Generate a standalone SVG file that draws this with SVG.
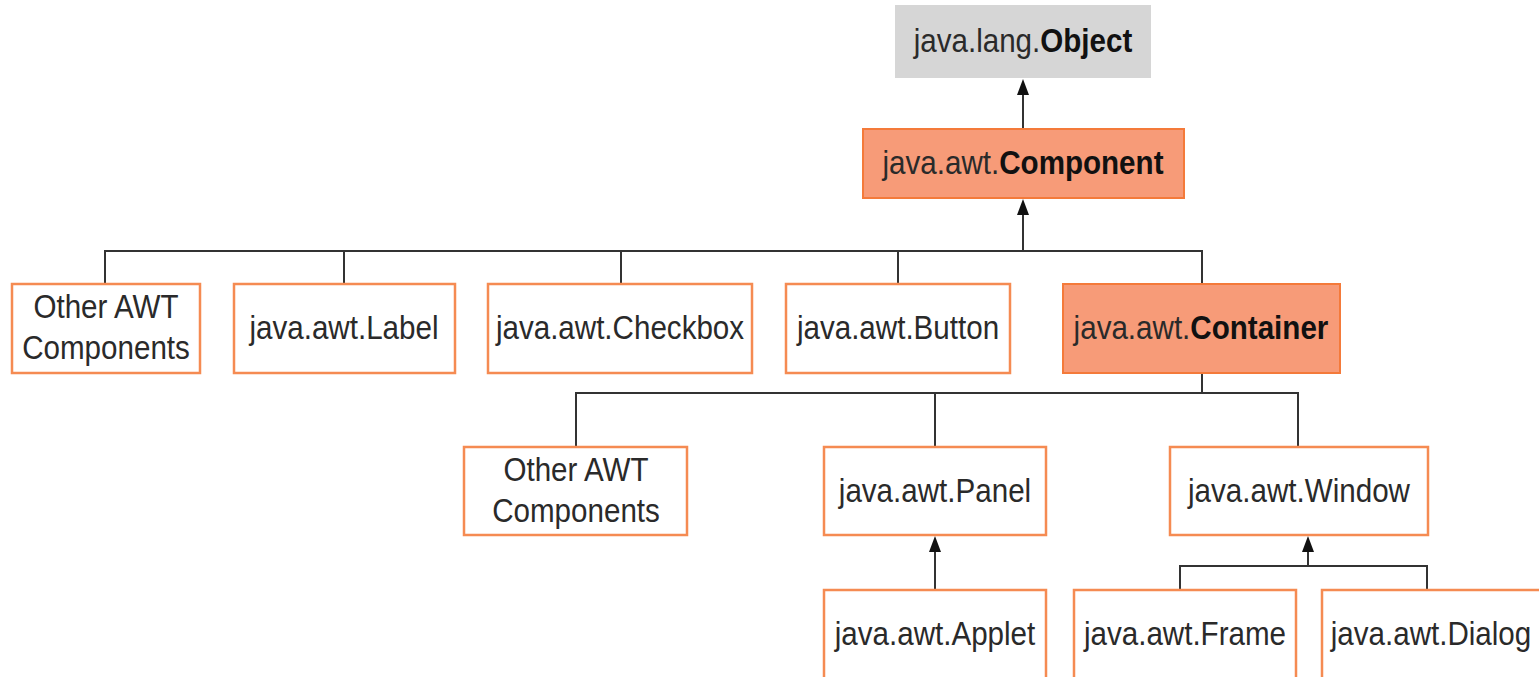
<svg xmlns="http://www.w3.org/2000/svg" width="1539" height="677" viewBox="0 0 1539 677">
  <style>
    .box { fill: #ffffff; stroke: #f58b52; stroke-width: 2.5; }
    .hot { fill: #f79b78; stroke: #f47a3a; stroke-width: 2; }
    .root { fill: #d6d6d6; stroke: none; }
    .t { font-family: "Liberation Sans", Arial, sans-serif; font-size: 34px; fill: #2a2a2a; text-anchor: middle; }
    .b { font-weight: bold; fill: #111111; }
    .ln { fill: none; stroke: #333333; stroke-width: 2; }
    .ah { fill: #111111; }
  </style>

  <!-- connectors -->
  <g id="connectors">
    <!-- Component -> Object -->
    <line class="ln" x1="1023" y1="129" x2="1023" y2="90"/>
    <!-- first-level children -> Component -->
    <path class="ln" d="M105,284 V251 H1202 V284 M344,251 V284 M621,251 V284 M898,251 V284"/>
    <line class="ln" x1="1023" y1="251" x2="1023" y2="210"/>
    <!-- Container children -->
    <path class="ln" d="M1202,373 V393 M576,447 V393 H1298 V447 M935,393 V447"/>
    <!-- Applet -> Panel -->
    <line class="ln" x1="935" y1="590" x2="935" y2="547"/>
    <!-- Frame / Dialog -> Window -->
    <path class="ln" d="M1180,590 V566 H1427 V590"/>
    <line class="ln" x1="1308" y1="566" x2="1308" y2="547"/>
    <!-- arrowheads -->
    <path class="ah" d="M1017,95 L1023,79 L1029,95 Z"/>
    <path class="ah" d="M1017,215 L1023,199 L1029,215 Z"/>
    <path class="ah" d="M929,552 L935,536 L941,552 Z"/>
    <path class="ah" d="M1302,552 L1308,536 L1314,552 Z"/>
  </g>

  <g id="object">
    <rect class="root" x="895" y="5" width="256" height="73"/>
    <text class="t" x="1023" y="52" transform="translate(132.99,0) scale(0.87,1)">java.lang.<tspan class="b">Object</tspan></text>
  </g>
  <g id="component">
    <rect class="hot" x="863" y="129" width="321" height="69"/>
    <text class="t" x="1023" y="174" transform="translate(132.99,0) scale(0.87,1)">java.awt.<tspan class="b">Component</tspan></text>
  </g>

  <g id="other1">
    <rect class="box" x="12" y="284" width="188" height="89"/>
    <text class="t" x="106" y="318" transform="translate(13.78,0) scale(0.87,1)">Other AWT</text>
    <text class="t" x="106" y="359" transform="translate(13.78,0) scale(0.87,1)">Components</text>
  </g>
  <g id="label">
    <rect class="box" x="234" y="284" width="221" height="89"/>
    <text class="t" x="344" y="339" transform="translate(44.72,0) scale(0.87,1)">java.awt.Label</text>
  </g>
  <g id="checkbox">
    <rect class="box" x="488" y="284" width="264" height="89"/>
    <text class="t" x="620" y="339" transform="translate(80.6,0) scale(0.87,1)">java.awt.Checkbox</text>
  </g>
  <g id="button">
    <rect class="box" x="786" y="284" width="224" height="89"/>
    <text class="t" x="898" y="339" transform="translate(116.74,0) scale(0.87,1)">java.awt.Button</text>
  </g>
  <g id="container">
    <rect class="hot" x="1063" y="284" width="277" height="89"/>
    <text class="t" x="1201" y="339" transform="translate(156.13,0) scale(0.87,1)">java.awt.<tspan class="b">Container</tspan></text>
  </g>

  <g id="other2">
    <rect class="box" x="464" y="447" width="223" height="88"/>
    <text class="t" x="576" y="481" transform="translate(74.88,0) scale(0.87,1)">Other AWT</text>
    <text class="t" x="576" y="522" transform="translate(74.88,0) scale(0.87,1)">Components</text>
  </g>
  <g id="panel">
    <rect class="box" x="824" y="447" width="222" height="88"/>
    <text class="t" x="935" y="502" transform="translate(121.55,0) scale(0.87,1)">java.awt.Panel</text>
  </g>
  <g id="window">
    <rect class="box" x="1170" y="447" width="258" height="88"/>
    <text class="t" x="1299" y="502" transform="translate(168.87,0) scale(0.87,1)">java.awt.Window</text>
  </g>

  <g id="applet">
    <rect class="box" x="824" y="590" width="222" height="95"/>
    <text class="t" x="935" y="645" transform="translate(121.55,0) scale(0.87,1)">java.awt.Applet</text>
  </g>
  <g id="frame">
    <rect class="box" x="1074" y="590" width="222" height="95"/>
    <text class="t" x="1185" y="645" transform="translate(154.05,0) scale(0.87,1)">java.awt.Frame</text>
  </g>
  <g id="dialog">
    <rect class="box" x="1322" y="590" width="225" height="95"/>
    <text class="t" x="1431" y="645" transform="translate(186.03,0) scale(0.87,1)">java.awt.Dialog</text>
  </g>
</svg>
